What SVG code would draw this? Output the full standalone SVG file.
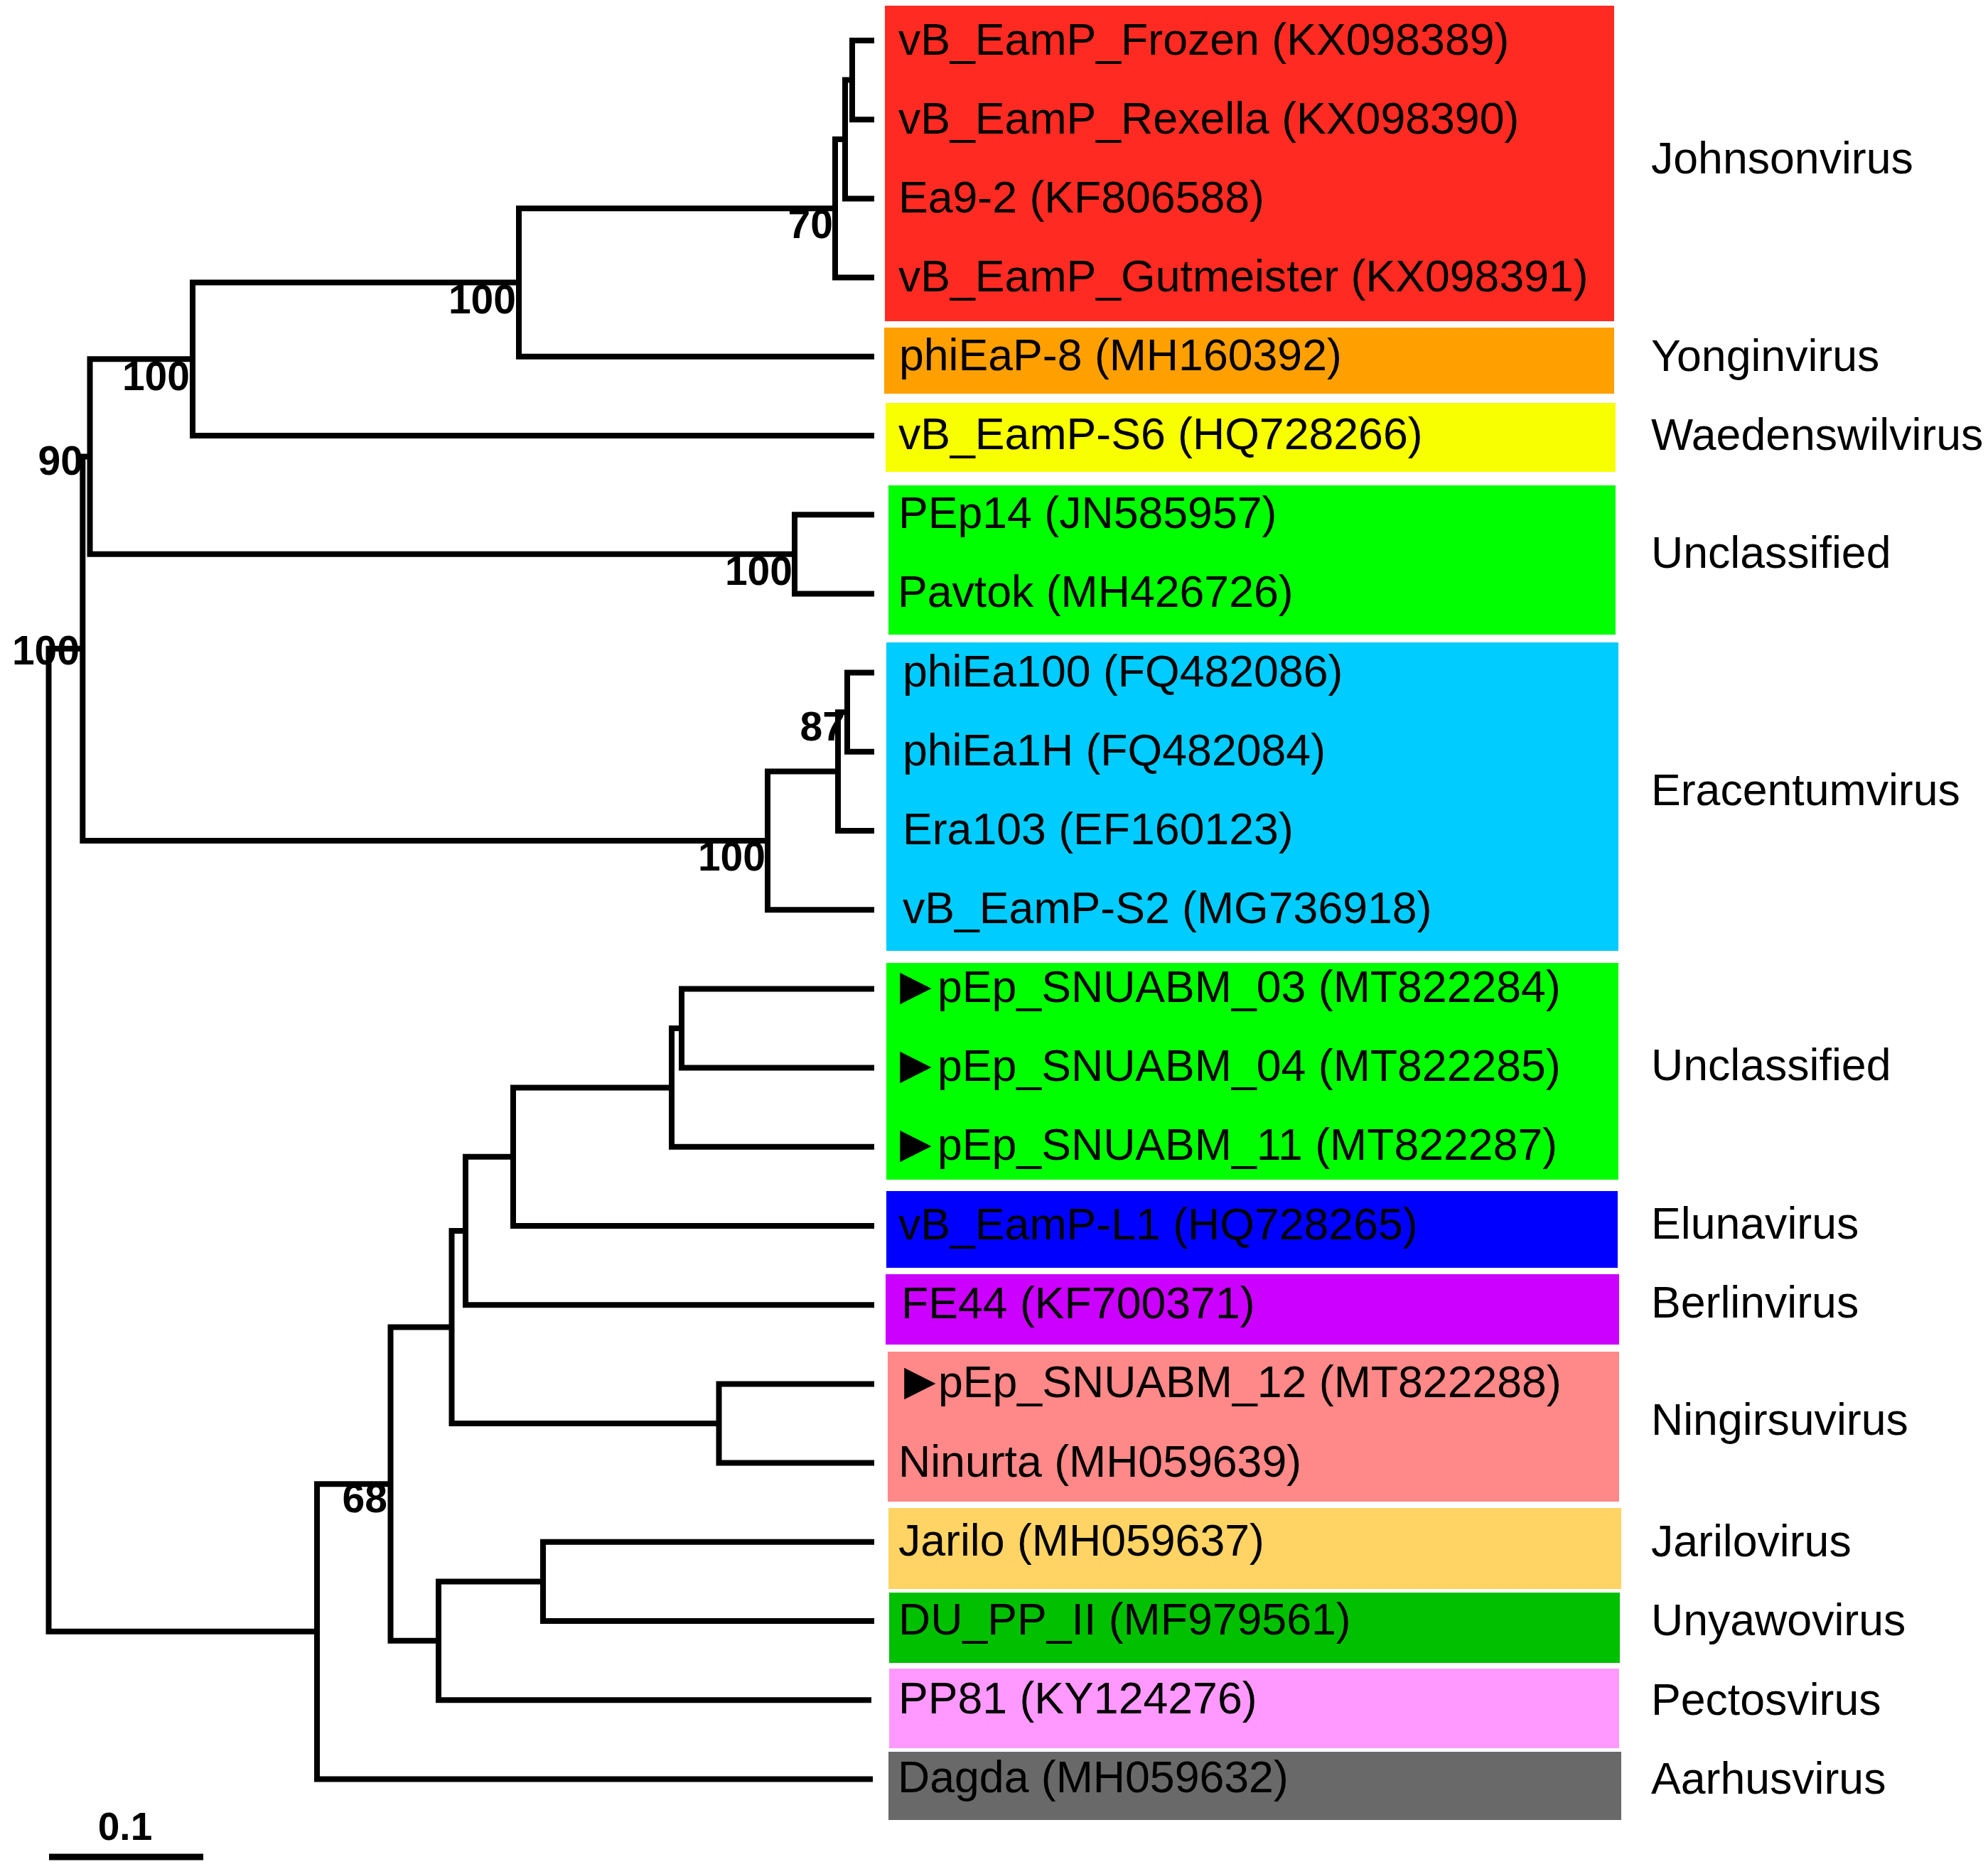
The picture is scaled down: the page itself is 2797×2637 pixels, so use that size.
<svg xmlns="http://www.w3.org/2000/svg" width="2797" height="2637" viewBox="0 0 2797 2637">
<style>
.edge{fill:none;stroke:#000;stroke-width:8;stroke-linejoin:miter;stroke-linecap:butt}
.lbl{font-family:"Liberation Sans",Arial,sans-serif;font-size:62.6px;fill:#000}
.bs{font-family:"Liberation Sans",Arial,sans-serif;font-size:57px;font-weight:bold;fill:#000;text-anchor:end}
.tri{font-family:"DejaVu Sans",sans-serif;font-size:58px}
</style>
<rect x="0" y="0" width="2797" height="2637" fill="#fff"/>

<g id="clade-johnsonvirus">
<rect x="1245" y="8" width="1026" height="444" fill="#FF2B22"/>
<g id="leaf-frozen"><text class="lbl" x="1264" y="77">vB_EamP_Frozen (KX098389)</text></g>
<g id="leaf-rexella"><text class="lbl" x="1264" y="188">vB_EamP_Rexella (KX098390)</text></g>
<g id="leaf-ea9-2"><text class="lbl" x="1264" y="299">Ea9-2 (KF806588)</text></g>
<g id="leaf-gutmeister"><text class="lbl" x="1264" y="410">vB_EamP_Gutmeister (KX098391)</text></g>
<text class="lbl" x="2323" y="244">Johnsonvirus</text>
</g>

<g id="clade-yonginvirus">
<rect x="1244" y="461" width="1027" height="93" fill="#FFA000"/>
<g id="leaf-phieap-8"><text class="lbl" x="1265" y="521">phiEaP-8 (MH160392)</text></g>
<text class="lbl" x="2323" y="522">Yonginvirus</text>
</g>

<g id="clade-waedenswilvirus">
<rect x="1246" y="567" width="1027" height="97" fill="#F8FF00"/>
<g id="leaf-s6"><text class="lbl" x="1264" y="632">vB_EamP-S6 (HQ728266)</text></g>
<text class="lbl" x="2323" y="633">Waedenswilvirus</text>
</g>

<g id="clade-unclassified-1">
<rect x="1250" y="683" width="1023" height="210" fill="#00FF00"/>
<g id="leaf-pep14"><text class="lbl" x="1264" y="743">PEp14 (JN585957)</text></g>
<g id="leaf-pavtok"><text class="lbl" x="1263" y="854">Pavtok (MH426726)</text></g>
<text class="lbl" x="2323" y="799">Unclassified</text>
</g>

<g id="clade-eracentumvirus">
<rect x="1247" y="904" width="1030" height="434" fill="#00CCFF"/>
<g id="leaf-phiea100"><text class="lbl" x="1270" y="966">phiEa100 (FQ482086)</text></g>
<g id="leaf-phiea1h"><text class="lbl" x="1270" y="1077">phiEa1H (FQ482084)</text></g>
<g id="leaf-era103"><text class="lbl" x="1270" y="1188">Era103 (EF160123)</text></g>
<g id="leaf-s2"><text class="lbl" x="1270" y="1299">vB_EamP-S2 (MG736918)</text></g>
<text class="lbl" x="2323" y="1133">Eracentumvirus</text>
</g>

<g id="clade-unclassified-2">
<rect x="1247" y="1355" width="1030" height="305" fill="#00FF00"/>
<g id="leaf-snuabm03"><text class="lbl" y="1410"><tspan class="tri" x="1266" y="1406">▶</tspan><tspan x="1319" y="1410">pEp_SNUABM_03 (MT822284)</tspan></text></g>
<g id="leaf-snuabm04"><text class="lbl" y="1521"><tspan class="tri" x="1266" y="1517">▶</tspan><tspan x="1319" y="1521">pEp_SNUABM_04 (MT822285)</tspan></text></g>
<g id="leaf-snuabm11"><text class="lbl" y="1632"><tspan class="tri" x="1266" y="1628">▶</tspan><tspan x="1319" y="1632">pEp_SNUABM_11 (MT822287)</tspan></text></g>
<text class="lbl" x="2323" y="1520">Unclassified</text>
</g>

<g id="clade-elunavirus">
<rect x="1247" y="1676" width="1029" height="108" fill="#0000FF"/>
<g id="leaf-l1"><text class="lbl" x="1264" y="1744">vB_EamP-L1 (HQ728265)</text></g>
<text class="lbl" x="2323" y="1743">Elunavirus</text>
</g>

<g id="clade-berlinvirus">
<rect x="1246" y="1793" width="1032" height="99" fill="#CC00FF"/>
<g id="leaf-fe44"><text class="lbl" x="1268" y="1855">FE44 (KF700371)</text></g>
<text class="lbl" x="2323" y="1854">Berlinvirus</text>
</g>

<g id="clade-ningirsuvirus">
<rect x="1249" y="1902" width="1029" height="211" fill="#FF8888"/>
<g id="leaf-snuabm12"><text class="lbl" y="1966"><tspan class="tri" x="1272" y="1962">▶</tspan><tspan x="1320" y="1966">pEp_SNUABM_12 (MT822288)</tspan></text></g>
<g id="leaf-ninurta"><text class="lbl" x="1264" y="2078">Ninurta (MH059639)</text></g>
<text class="lbl" x="2323" y="2019">Ningirsuvirus</text>
</g>

<g id="clade-jarilovirus">
<rect x="1250" y="2122" width="1031" height="114" fill="#FFD464"/>
<g id="leaf-jarilo"><text class="lbl" x="1264" y="2189">Jarilo (MH059637)</text></g>
<text class="lbl" x="2323" y="2190">Jarilovirus</text>
</g>

<g id="clade-unyawovirus">
<rect x="1251" y="2241" width="1028" height="99" fill="#00C000"/>
<g id="leaf-du-pp-ii"><text class="lbl" x="1264" y="2300">DU_PP_II (MF979561)</text></g>
<text class="lbl" x="2323" y="2301">Unyawovirus</text>
</g>

<g id="clade-pectosvirus">
<rect x="1251" y="2348" width="1027" height="112" fill="#FF99FF"/>
<g id="leaf-pp81"><text class="lbl" x="1264" y="2411">PP81 (KY124276)</text></g>
<text class="lbl" x="2323" y="2413">Pectosvirus</text>
</g>

<g id="clade-aarhusvirus">
<rect x="1250" y="2465" width="1031" height="96" fill="#696969"/>
<g id="leaf-dagda"><text class="lbl" x="1263" y="2522">Dagda (MH059632)</text></g>
<text class="lbl" x="2323" y="2524">Aarhusvirus</text>
</g>

<g id="connectors">
<path class="edge" d="M1230 57 H1199 V168.2 H1230"/>
<path class="edge" d="M1199 112.6 H1189 V279.4 H1230"/>
<path class="edge" d="M1189 196 H1175 V390.6 H1230"/>
<path class="edge" d="M1175 293.3 H730 V501.8 H1230"/>
<path class="edge" d="M730 397.5 H271 V613 H1230"/>
<path class="edge" d="M1230 724.2 H1118 V835.4 H1230"/>
<path class="edge" d="M271 505.3 H126.5 V779.8 H1118"/>
<path class="edge" d="M1230 946.6 H1192 V1057.8 H1230"/>
<path class="edge" d="M1192 1002.2 H1179 V1169 H1230"/>
<path class="edge" d="M1179 1085.6 H1080 V1280.2 H1230"/>
<path class="edge" d="M126.5 642.5 H116.3 V1182.9 H1080"/>
<path class="edge" d="M116.3 912.7 H68.5 V2295.8 H446"/>
<path class="edge" d="M1230 1391.4 H959 V1502.6 H1230"/>
<path class="edge" d="M959 1447 H945 V1613.8 H1230"/>
<path class="edge" d="M945 1530.4 H722 V1725 H1230"/>
<path class="edge" d="M722 1627.7 H655 V1836.2 H1230"/>
<path class="edge" d="M1230 1947.4 H1011.5 V2058.6 H1230"/>
<path class="edge" d="M655 1732 H635.5 V2003 H1011.5"/>
<path class="edge" d="M1230 2169.8 H764 V2281 H1230"/>
<path class="edge" d="M764 2225.4 H617 V2392.2 H1226"/>
<path class="edge" d="M635.5 1867.5 H549.5 V2308.8 H617"/>
<path class="edge" d="M549.5 2088.2 H446 V2503.4 H1228"/>
</g>

<g id="bootstrap">
<text class="bs" x="112" y="935">100</text>
<text class="bs" x="117" y="668">90</text>
<text class="bs" x="267" y="549">100</text>
<text class="bs" x="726" y="441">100</text>
<text class="bs" x="1172" y="335">70</text>
<text class="bs" x="1115" y="823">100</text>
<text class="bs" x="1189" y="1042">87</text>
<text class="bs" x="1077" y="1225">100</text>
<text class="bs" x="545" y="2128">68</text>
</g>

<g id="scale-bar">
<line x1="69" y1="2613" x2="286" y2="2613" stroke="#000" stroke-width="9"/>
<text class="bs" x="176" y="2589" style="text-anchor:middle;font-size:55px">0.1</text>
</g>
</svg>
